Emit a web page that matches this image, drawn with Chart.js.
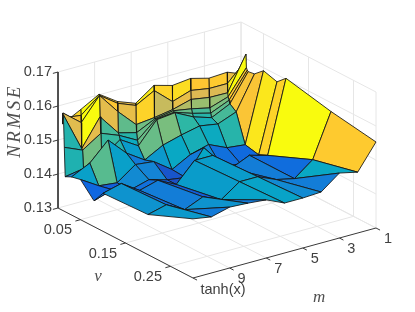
<!DOCTYPE html>
<html><head><meta charset="utf-8">
<style>html,body{margin:0;padding:0;background:#fff}canvas{display:block}</style>
<script src="https://cdn.jsdelivr.net/npm/chart.js@4"></script></head>
<body><canvas id="c" width="415" height="312"></canvas>
<script>
const vValues=[.01,.0105,.011,.012,.014,.016,.03,.05,.08,.1,.2,.3];
const mValues=[1,2,3,4,5,6,7,8,9,10,11];
const nrmseM1=[.1553,.1594,.1613,.1574,.1568,.1565,.1568,.1591,.1579,.1603,.1574,.1553];
const nrmseM2=[.1574,.1541,.1514,.1503,.1494,.1485,.1471,.1388,.1379,.1391,.1447,.1479];
const nrmseM3=[.1571,.1541,.1515,.1485,.1471,.1459,.1450,.1394,.1368,.1406,.1406,.1491];
const nrmseM4=[.1585,.1550,.1524,.1497,.1485,.1476,.1459,.1418,.1371,.1382,.1418,.1450];
const nrmseM5=[.1579,.1532,.1509,.1506,.1503,.1503,.1447,.1403,.1444,.1435,.1441,.1447];
const nrmseM6=[.1594,.1579,.1500,.1497,.1497,.1497,.1432,.1374,.1371,.1435,.1441,.1447];
const nrmseM7=[.1556,.1550,.1494,.1471,.1450,.1435,.1403,.1412,.1379,.1379,.1403,.1471];
const nrmseM8=[.1576,.1571,.1547,.1485,.1479,.1468,.1438,.1418,.1394,.1406,.1426,.1476];
const nrmseM9=[.1612,.1609,.1609,.1547,.1500,.1429,.1491,.1379,.1379,.1391,.1403,.1479];
const nrmseM10=[.1582,.1565,.1544,.1468,.1465,.1412,.1438,.1385,.1394,.1426,.1432,.1465];
const nrmseM11=[.1554,.1572,.1587,.1582,.1488,.1403,.1412,.1418,.1376,.1412,.1418,.1474];
const nrmse=[nrmseM1,nrmseM2,nrmseM3,nrmseM4,nrmseM5,nrmseM6,nrmseM7,nrmseM8,nrmseM9,nrmseM10,nrmseM11];
const zTicks=[.13,.14,.15,.16,.17];
const zTickLabels=['0.13','0.14','0.15','0.16','0.17'];
const vTicks=[.05,.15,.25];
const vTickLabels=['0.05','0.15','0.25'];
const mTicks=[1,3,5,7,9,11];
const mTickLabels=['1','3','5','7','9','tanh(x)'];
const colorLimits=[.135,.1603];
const parula=[[53,42,135],[15,99,225],[20,133,212],[6,167,198],[46,183,164],[135,191,119],[220,186,84],[254,198,50],[249,251,14]];

// orthographic view of the box v:[0,.3], m:[1,11], z:[.13,.17]
const project=(v,m,z)=>({x:241+v/.3*135-(m-1)*18.3,y:158+v/.3*70+(m-1)*5-(z-.13)*3400});
const [cMin,cMax]=colorLimits;
function colour(z){
  const t=Math.max(0,Math.min(1,(z-cMin)/(cMax-cMin)))*(parula.length-1),i=Math.min(parula.length-2,Math.floor(t)),f=t-i;
  const c=parula[i].map((a,k)=>Math.round(a+(parula[i+1][k]-a)*f));
  return `rgb(${c[0]},${c[1]},${c[2]})`;
}
const sets=[];
function line(points,color,width){
  sets.push({data:points,showLine:true,borderColor:color,borderWidth:width,pointRadius:0,fill:false,tension:0,borderCapStyle:'butt'});
}
const GRID='#e6e6e6',AX='#3a3a3a';
const [vMin,vMax,mMin,mMax,zMin,zMax]=[0,.3,1,11,.13,.17];
zTicks.forEach(z=>{
  line([project(vMin,mMax,z),project(vMin,mMin,z),project(vMax,mMin,z)],GRID,1);
});
vTicks.forEach(v=>{
  line([project(v,mMax,zMin),project(v,mMin,zMin),project(v,mMin,zMax)],GRID,1);
});
mTicks.forEach(m=>{
  line([project(vMax,m,zMin),project(vMin,m,zMin),project(vMin,m,zMax)],GRID,1);
});
line([project(vMin,mMin,zMin),project(vMin,mMin,zMax)],GRID,1);
line([project(vMax,mMin,zMin),project(vMax,mMin,zMax)],GRID,1);
line([project(vMin,mMax,zMax),project(vMin,mMax,zMin),project(vMax,mMax,zMin),project(vMax,mMin,zMin)],AX,1);
zTicks.forEach(z=>line([project(vMin,mMax,z),project(vMin,mMax+.28,z)],AX,1));
vTicks.forEach(v=>line([project(v,mMax,zMin),project(v,mMax+.28,zMin)],AX,1));
mTicks.forEach(m=>line([project(vMax,m,zMin),project(vMax+.009,m,zMin)],AX,1));
// surface, back to front; each facet takes the colour of its lowest-index corner
for(let j=0;j<mValues.length-1;j++){
  for(let i=0;i<vValues.length-1;i++){
    const p=(a,b)=>project(vValues[a],mValues[b],nrmse[b][a]);
    sets.push({data:[p(i,j),p(i+1,j),p(i+1,j+1),p(i,j+1),p(i,j)],showLine:true,fill:'shape',
      backgroundColor:colour(nrmse[j][i]),borderColor:'#141414',borderWidth:.85,pointRadius:0,tension:0,borderJoinStyle:'round'});
  }
}
sets.forEach((s,k)=>{s.order=sets.length-k;s.clip=false;});

const labels={id:'labels',afterDraw(ch){
  const c=ch.ctx,X=ch.scales.x,Y=ch.scales.y;
  const put=(t,p,dx,dy,a)=>{c.textAlign=a;c.fillText(t,X.getPixelForValue(p.x)+dx,Y.getPixelForValue(p.y)+dy);};
  c.save();c.fillStyle='#404040';c.textBaseline='middle';c.font='14.5px "Liberation Sans"';
  zTicks.forEach((z,i)=>put(zTickLabels[i],project(vMin,mMax,z),-6,0,'right'));
  vTicks.forEach((v,i)=>put(vTickLabels[i],project(v,mMax,zMin),-8.5,10.5,'right'));
  mTicks.forEach((m,i)=>put(mTickLabels[i],project(vMax,m,zMin),m===11?30:12,m===11?11.5:10.5,'center'));
  c.font='italic 17px "Liberation Serif"';c.fillStyle='#505050';
  put('v',project(.1,mMax,zMin),-5,45,'center');
  put('m',project(vMax,4,zMin),-2,55,'center');
  c.translate(15,121);c.rotate(-Math.PI/2);c.font='italic 19px "Liberation Serif"';c.letterSpacing='2.5px';c.textAlign='center';c.fillText('NRMSE',0,0);
  c.restore();
}};
new Chart(document.getElementById('c'),{type:'scatter',data:{datasets:sets},plugins:[labels],
 options:{responsive:false,animation:false,layout:{padding:0},events:[],
  plugins:{legend:{display:false},tooltip:{enabled:false}},
  scales:{x:{type:'linear',display:false,min:0,max:415},y:{type:'linear',display:false,min:0,max:312,reverse:true}}}});
</script></body></html>
